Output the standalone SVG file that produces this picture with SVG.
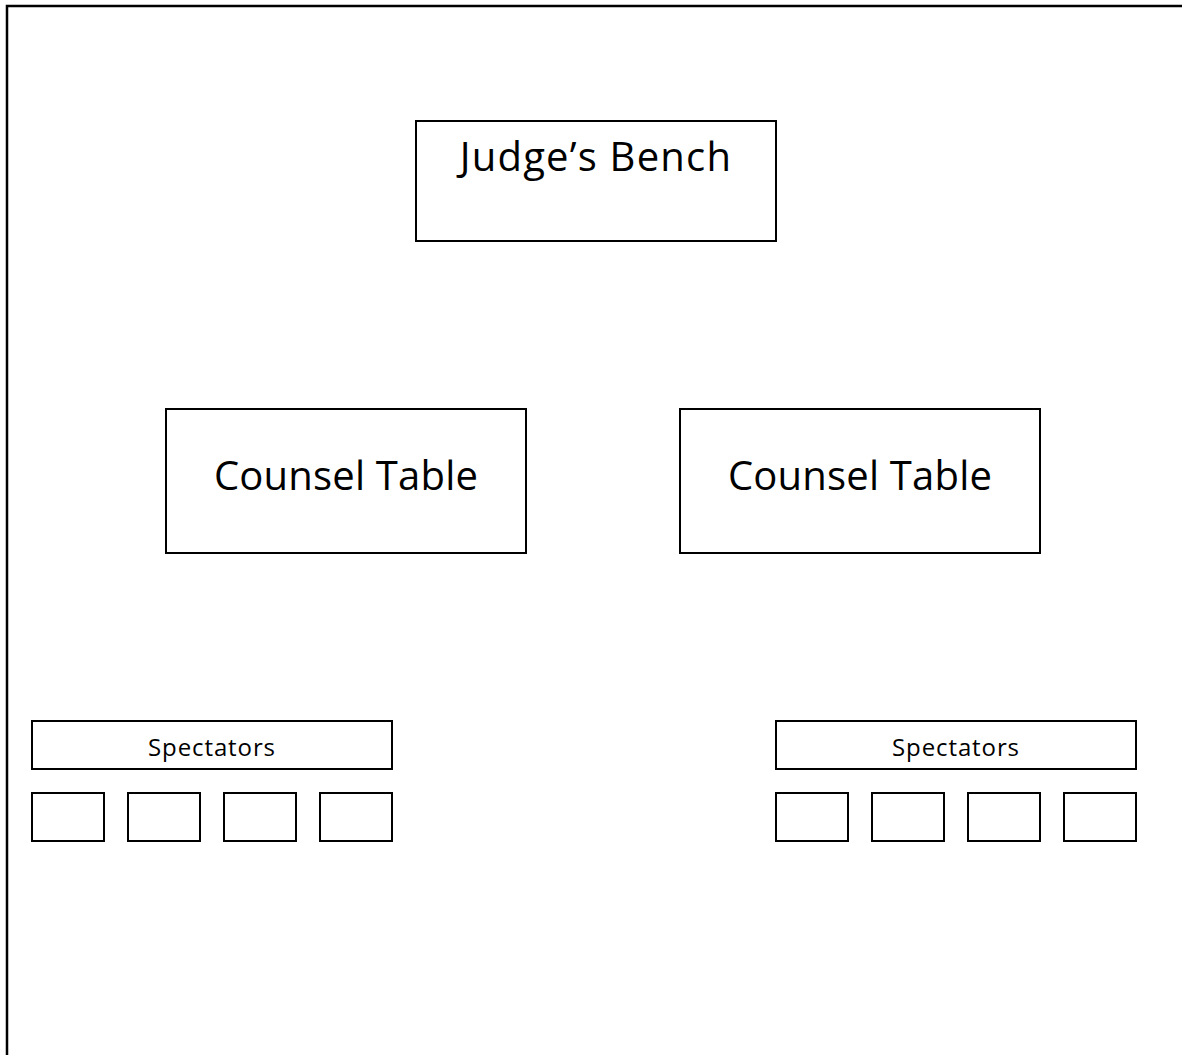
<svg xmlns="http://www.w3.org/2000/svg" width="1182" height="1055" viewBox="0 0 1182 1055">
<style>
.b{fill:#fff;stroke:#000;stroke-width:2}
.t{font-family:"Open Sans","Noto Sans",sans-serif;fill:#000;text-anchor:middle}
.big{font-size:40px;letter-spacing:0.2px}
.jb{letter-spacing:1.2px}
.sm{font-size:24px;letter-spacing:0.9px}
</style>
<rect width="1182" height="1055" fill="#fff"/>
<path d="M7,1056 V6 H1183" fill="none" stroke="#000" stroke-width="2.5"/>
<g id="judge"><rect class="b" x="416" y="121" width="360" height="120"/><text class="t big jb" x="596" y="171">Judge’s Bench</text></g>
<g id="counsel-left"><rect class="b" x="166" y="409" width="360" height="144"/><text class="t big" x="346" y="490">Counsel Table</text></g>
<g id="counsel-right"><rect class="b" x="680" y="409" width="360" height="144"/><text class="t big" x="860" y="490">Counsel Table</text></g>
<g id="spectators-left"><rect class="b" x="32" y="721" width="360" height="48"/><text class="t sm" x="212" y="756">Spectators</text></g>
<g id="spectators-right"><rect class="b" x="776" y="721" width="360" height="48"/><text class="t sm" x="956" y="756">Spectators</text></g>
<g id="seats-left"><rect class="b" x="32" y="793" width="72" height="48"/><rect class="b" x="128" y="793" width="72" height="48"/><rect class="b" x="224" y="793" width="72" height="48"/><rect class="b" x="320" y="793" width="72" height="48"/></g>
<g id="seats-right"><rect class="b" x="776" y="793" width="72" height="48"/><rect class="b" x="872" y="793" width="72" height="48"/><rect class="b" x="968" y="793" width="72" height="48"/><rect class="b" x="1064" y="793" width="72" height="48"/></g>
<g id="connectors"/>
</svg>
